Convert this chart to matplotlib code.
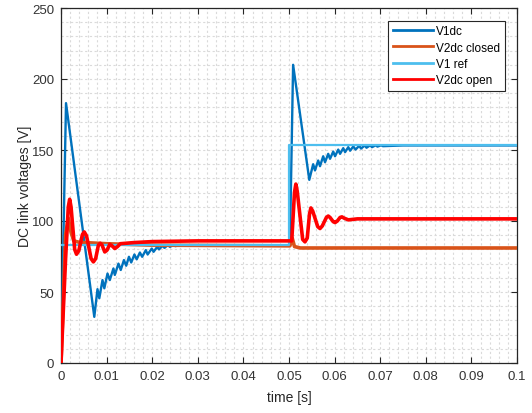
import matplotlib
matplotlib.use("Agg")
import matplotlib.pyplot as plt
from matplotlib.ticker import MultipleLocator

plt.rcParams['font.family'] = ['Liberation Sans', 'DejaVu Sans']
plt.rcParams['lines.scale_dashes'] = False

# ---- data ----
t_v1 = [0.0, 0.0011, 0.0073, 0.0080, 0.0084, 0.0091, 0.0095, 0.0102, 0.0107, 0.0115, 0.0118,
        0.0126, 0.0131, 0.0138, 0.0143, 0.0149, 0.0154, 0.0161, 0.0166, 0.0173, 0.0178,
        0.0186, 0.0190, 0.0199, 0.0203, 0.0211, 0.0215, 0.0222, 0.0227, 0.0234, 0.0239,
        0.0246, 0.0251, 0.0260, 0.0500, 0.0502, 0.0509, 0.05445, 0.0553, 0.0557, 0.0564,
        0.0568, 0.0575, 0.0579, 0.0586, 0.0590, 0.0597, 0.0601, 0.0608, 0.0612, 0.0619,
        0.0623, 0.0630, 0.0634, 0.0641, 0.0646, 0.0654, 0.0658, 0.0666, 0.0670, 0.0678,
        0.0682, 0.0690, 0.0694, 0.0702, 0.0706, 0.0750, 0.1000]
v1dc = [0.0, 183.0, 32.5, 52.0, 45.6, 58.4, 52.6, 63.0, 58.4, 66.6, 62.0,
        70.0, 65.5, 72.5, 68.5, 74.8, 70.8, 76.4, 73.0, 77.8, 74.8,
        79.5, 76.4, 80.6, 78.3, 81.8, 80.0, 82.5, 81.1, 83.0, 81.8,
        83.0, 82.3, 83.0, 83.0, 83.0, 210.0, 129.0, 140.0, 135.6, 142.6,
        138.6, 145.6, 141.4, 147.3, 143.8, 148.9, 145.6, 150.3, 147.3, 151.3,
        148.5, 152.0, 149.5, 152.5, 150.3, 153.0, 151.0, 153.2, 151.6, 153.3,
        152.0, 153.3, 152.4, 153.3, 152.7, 153.2, 153.2]

t_v2c = [0.0, 0.0010, 0.0016, 0.0022, 0.0028, 0.0040, 0.0100, 0.0200, 0.0500, 0.0502,
         0.0507, 0.0512, 0.0525, 0.1000]
v2dc_closed = [0.0, 90.0, 102.0, 92.0, 86.0, 85.0, 84.0, 83.0, 82.5, 82.5,
               88.0, 82.0, 81.0, 81.0]

t_ref = [0.0, 0.0500, 0.0500, 0.1000]
v1_ref = [83.0, 83.0, 153.5, 153.5]

t_v2o = [0.0, 0.0010, 0.0016, 0.0019, 0.0022, 0.0030, 0.0034, 0.0039, 0.0047, 0.0051,
         0.0056, 0.0066, 0.0071, 0.0076, 0.0082, 0.0086, 0.0090, 0.0096, 0.0101, 0.0107,
         0.0112, 0.0118, 0.0124, 0.0130, 0.0160, 0.0200, 0.0300, 0.0506, 0.0512, 0.0515,
         0.0518, 0.0530, 0.0535, 0.0540, 0.0545, 0.0548, 0.0552, 0.0563, 0.0568, 0.0573,
         0.0582, 0.0586, 0.0590, 0.0597, 0.0601, 0.0606, 0.0612, 0.0616, 0.0621, 0.0630,
         0.0650, 0.1000]
v2dc_open = [0.0, 73.0, 110.0, 115.3, 110.0, 80.0, 76.6, 79.0, 90.5, 92.3,
             89.5, 73.5, 71.2, 73.5, 83.0, 84.3, 83.0, 78.2, 79.5, 83.6,
             82.5, 80.6, 82.0, 84.0, 84.8, 85.5, 86.0, 86.0, 120.0, 126.0,
             121.0, 87.0, 85.3, 88.0, 105.0, 109.2, 107.0, 96.0, 94.7, 96.5,
             102.5, 103.5, 102.5, 99.5, 98.9, 100.0, 102.5, 102.9, 102.0, 100.8,
             101.5, 101.5]

x_ticks = [0, 0.01, 0.02, 0.03, 0.04, 0.05, 0.06, 0.07, 0.08, 0.09, 0.1]
x_labels = ["0", "0.01", "0.02", "0.03", "0.04", "0.05", "0.06", "0.07", "0.08", "0.09", "0.1"]
y_ticks = [0, 50, 100, 150, 200, 250]

# ---- figure ----
fig = plt.figure(figsize=(5.32, 4.14), dpi=100)
ax = fig.add_axes([61/532, 50/414, 456/532, 355/414])

ax.plot(t_v1, v1dc, color='#0072BD', lw=1.7, label='V1dc', zorder=3)
ax.plot(t_v2c, v2dc_closed, color='#D95319', lw=2.6, label='V2dc closed', zorder=3)
ax.plot(t_ref, v1_ref, color='#4DBEEE', lw=1.6, label='V1 ref', zorder=3)
ax.plot(t_v2o, v2dc_open, color='#FF0000', lw=2.6, label='V2dc open', zorder=3)

ax.set_xlim(0, 0.1)
ax.set_ylim(0, 250)
ax.set_xticks(x_ticks)
ax.set_xticklabels(x_labels)
ax.set_yticks(y_ticks)
ax.xaxis.set_minor_locator(MultipleLocator(0.002))
ax.yaxis.set_minor_locator(MultipleLocator(10))

dark = '#262626'
ax.tick_params(which='major', direction='in', top=True, right=True, length=4,
               width=0.8, color=dark, labelcolor='#333333', labelsize=9.5, pad=5)
ax.tick_params(which='minor', direction='in', top=True, right=True, length=0)
for s in ax.spines.values():
    s.set_color(dark)
    s.set_linewidth(0.9)

ax.grid(True, which='both', color='#dadada', lw=0.8, linestyle=(0, (1.6, 1.8)), zorder=0)
ax.set_axisbelow(True)

ax.set_xlabel('time [s]', fontsize=10, color=dark, labelpad=6)
ax.set_ylabel('DC link voltages [V]', fontsize=10, color=dark, labelpad=0)

leg = ax.legend(loc='upper right', bbox_to_anchor=(0.9737, 0.9642), borderaxespad=0,
                fontsize=8.5, handlelength=3.4, handletextpad=0.3, labelspacing=0.35,
                borderpad=0.4, fancybox=False, framealpha=1, edgecolor=dark)
leg.get_frame().set_linewidth(0.8)
for line in leg.get_lines():
    line.set_linewidth(2.0)

fig.savefig('out.png', dpi=100)
